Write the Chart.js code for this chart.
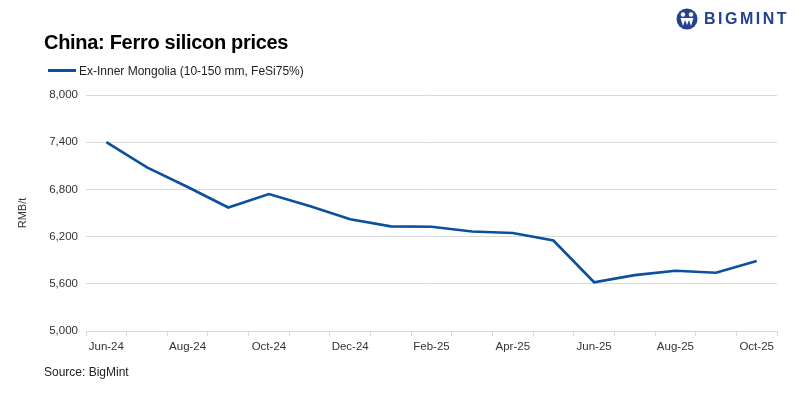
<!DOCTYPE html>
<html>
<head>
<meta charset="utf-8">
<script src="https://cdn.jsdelivr.net/npm/chart.js@4"></script>
<style>
  body { margin: 0; background: #fff; font-family: "Liberation Sans", Arial, sans-serif; }
  #wrap { position: relative; width: 812px; height: 399px; }
  #chartBox { position: absolute; left: 0; top: 0; width: 812px; height: 399px; }
  .title { position: absolute; left: 44px; top: 31px; font-size: 20px; font-weight: bold; color: #000; letter-spacing: -0.3px; }
  .legend { position: absolute; left: 48px; top: 64px; font-size: 12px; color: #222; }
  .legend span.swatch { display: inline-block; width: 28px; height: 3px; background: #0b4f9f; vertical-align: middle; margin-right: 3px; position: relative; top: -1px; }
  .source { position: absolute; left: 44px; top: 365px; font-size: 12px; color: #222; }
  .logo { position: absolute; left: 676px; top: 7px; height: 24px; display: flex; align-items: center; }
  .logo .txt { font-size: 16px; font-weight: bold; color: #24428f; letter-spacing: 2.5px; margin-left: 6px; }
</style>
</head>
<body>
<div id="wrap">
  <div id="chartBox"><canvas id="priceChart"></canvas></div>
  <div class="title">China: Ferro silicon prices</div>
  <div class="legend"><span class="swatch"></span>Ex-Inner Mongolia (10-150 mm, FeSi75%)</div>
  <div class="source">Source: BigMint</div>
  <div class="logo">
    <svg width="22" height="22" viewBox="0 0 22 22">
      <circle cx="11" cy="11" r="10.5" fill="#24428f"/>
      <circle cx="7" cy="6.5" r="2.2" fill="#fff"/>
      <circle cx="15" cy="6.5" r="2.2" fill="#fff"/>
      <path d="M4.5 10 L7 18 L9 12 L11 17 L13 12 L15 18 L17.5 10 Z" fill="#fff"/>
    </svg>
    <span class="txt">BIGMINT</span>
  </div>
</div>
<script>
// monthly labels and prices (RMB/t)
const months = ['Jun-24', 'Jul-24', 'Aug-24', 'Sep-24', 'Oct-24', 'Nov-24', 'Dec-24', 'Jan-25', 'Feb-25',
                'Mar-25', 'Apr-25', 'May-25', 'Jun-25', 'Jul-25', 'Aug-25', 'Sep-25', 'Oct-25'];
const innerMongolia = [7400, 7080, 6830, 6570, 6740, 6590, 6420, 6330, 6325,
                       6265, 6245, 6150, 5620, 5710, 5765, 5740, 5890];
const seriesName = 'Ex-Inner Mongolia (10-150 mm, FeSi75%)';
const yTicks = [5000, 5600, 6200, 6800, 7400, 8000];

const ctx = document.getElementById('priceChart').getContext('2d');

new Chart(ctx, {
    type: 'line',
    data: {
        labels: months,
        datasets: [{
            label: seriesName,
            data: innerMongolia,
            borderColor: '#0b4f9f',
            borderWidth: 2.6,
            pointRadius: 0,
            tension: 0,
            fill: false,
        }],
    },
    options: {
        responsive: true,
        maintainAspectRatio: false,
        animation: false,
        layout: { padding: { left: 0, right: 35, top: 95, bottom: 0 } },
        plugins: {
            legend: { display: false },
            tooltip: { enabled: false },
        },
        scales: {
            x: {
                offset: true,
                grid: {
                    display: true,
                    offset: true,
                    drawOnChartArea: false,
                    drawTicks: true,
                    tickLength: 5,
                    color: '#d9d9d9',
                },
                border: { display: true, color: '#d9d9d9' },
                afterFit: scale => { scale.height = 68; },
                ticks: {
                    autoSkip: false,
                    maxRotation: 0,
                    padding: 4,
                    color: '#333',
                    font: { family: 'Liberation Sans', size: 11.5 },
                    callback: (v, i) => (i % 2 === 0 ? months[i] : ''),
                },
            },
            y: {
                min: 5000,
                max: 8000,
                afterBuildTicks: scale => { scale.ticks = yTicks.map(v => ({ value: v })); },
                afterFit: scale => { scale.width = 86; },
                grid: { color: '#d9d9d9', lineWidth: 1, drawTicks: false },
                border: { display: false },
                title: {
                    display: true,
                    text: 'RMB/t',
                    color: '#333',
                    font: { family: 'Liberation Sans', size: 11 },
                    padding: { top: 16, bottom: 0 },
                },
                ticks: {
                    padding: 8,
                    color: '#333',
                    font: { family: 'Liberation Sans', size: 11.5 },
                    callback: v => v.toLocaleString('en-US'),
                },
            },
        },
    },
});
</script>
</body>
</html>
